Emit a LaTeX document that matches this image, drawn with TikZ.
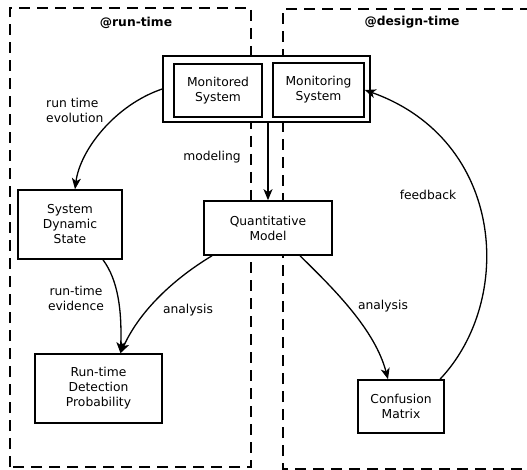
\documentclass[tikz,border=0pt]{standalone}
\usepackage{fontspec}
\setmainfont{DejaVu Sans}
\usetikzlibrary{arrows.meta}
\begin{document}
\begin{tikzpicture}[x=1pt,y=-1pt,
  box/.style={draw,fill=white,line width=1.6pt,align=center,inner sep=0pt,font=\fontsize{12.3}{15}\selectfont},
  lbl/.style={align=center,inner sep=0pt,font=\fontsize{12.3}{15}\selectfont},
  region/.style={draw,line width=1.6pt,dash pattern=on 11pt off 7pt},
  conn/.style={line width=1.3pt,-{Stealth[length=11pt,width=9pt,inset=3pt]}}]
\useasboundingbox (0,0) rectangle (527,470);
% regions
\draw[region] (10,467) -- (10,8) -- (251,8) -- (251,467) -- cycle;
\draw[region] (540,469) -- (283,469) -- (283,9) -- (540,9);
\node[lbl,font=\fontsize{12.3}{15}\selectfont\bfseries] (rt) at (136,23) {@run-time};
\node[lbl,font=\fontsize{12.3}{15}\selectfont\bfseries] (dt) at (412,22) {@design-time};
% nodes
\node[box,minimum width=207pt,minimum height=66pt] (sys) at (266.5,89) {};
\node[box,minimum width=88pt,minimum height=53pt] (mon) at (218,90.5) {Monitored\\System};
\node[box,minimum width=91pt,minimum height=54pt] (ming) at (318.5,90) {Monitoring\\System};
\node[box,minimum width=104pt,minimum height=69pt] (sds) at (70,224.5) {System\\Dynamic\\State};
\node[box,minimum width=128pt,minimum height=54pt] (qm) at (268,228) {Quantitative\\Model};
\node[box,minimum width=127pt,minimum height=69pt] (rdp) at (98.5,388.5) {Run-time\\Detection\\Probability};
\node[box,minimum width=86pt,minimum height=53pt] (cm) at (401,406.5) {Confusion\\Matrix};
% labels
\node[lbl,align=left,anchor=west] (l1) at (46,110) {run time\\evolution};
\node[lbl] (l2) at (212,157) {modeling};
\node[lbl] (l3) at (428,195) {feedback};
\node[lbl] (l4) at (76,298) {run-time\\evidence};
\node[lbl] (l5) at (188,310) {analysis};
\node[lbl] (l6) at (383,306) {analysis};
% connectors
\coordinate (sdsin) at ([xshift=5pt]sds.north);
\coordinate (rdpin) at ([xshift=22pt]rdp.north);
\coordinate (cmin) at ([xshift=-13pt]cm.north);
\coordinate (cmout) at ([xshift=39pt]cm.north);
\coordinate (qmout1) at ([xshift=-56pt]qm.south);
\coordinate (qmout2) at ([xshift=32pt]qm.south);
\coordinate (sdsout) at ([xshift=33pt]sds.south);
\draw[conn] (sys.west) .. controls (115,105) and (80,150) .. (sdsin);
\draw[conn] (qm.north |- sys.south) -- (qm.north);
\draw[conn] (cmout) .. controls (515,300) and (505,140) .. (ming.east);
\draw[conn] (qmout2) .. controls (335,290) and (375,330) .. (cmin);
\draw[conn] (qmout1) .. controls (175,278) and (140,310) .. (rdpin);
\draw[conn] (sdsout) .. controls (118,280) and (122,310) .. (rdpin);
\end{tikzpicture}
\end{document}
